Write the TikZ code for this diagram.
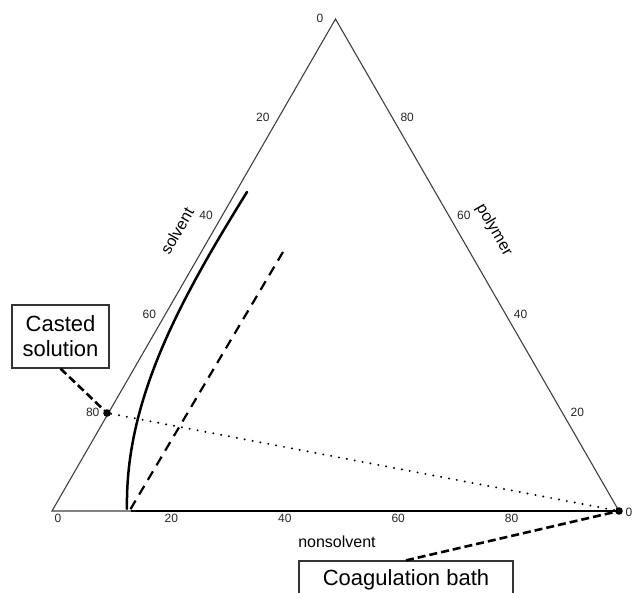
\documentclass[tikz,border=0pt]{standalone}
\usepackage{fontspec}
\setmainfont{Liberation Sans}
\usetikzlibrary{calc}
\begin{document}
\begin{tikzpicture}[x=0.5pt,y=-0.5pt,
  edge/.style={line width=0.55pt, draw=black!75},
  ticklab/.style={font=\fontsize{6}{7}\selectfont, text=black!85, inner sep=0pt},
  axisname/.style={font=\fontsize{8}{9}\selectfont, inner sep=0pt},
  heavy/.style={line width=1.25pt, line cap=round},
  tieline/.style={line width=1.1pt, dash pattern=on 5pt off 3.5pt},
  leader/.style={line width=1.3pt, dash pattern=on 4pt off 2pt},
  dotline/.style={line width=1.1pt, line cap=round, dash pattern=on 0pt off 4pt},
  pt/.style={circle, fill=black, inner sep=0pt, minimum size=3.8pt},
  callout/.style={draw=black!80, line width=0.6pt, font=\fontsize{11}{12.5}\selectfont, align=center, inner sep=0pt}
]
\useasboundingbox (0,0) rectangle (634,593);
% triangle corners
\coordinate (A) at (335.5,19);
\coordinate (L) at (52,511);
\coordinate (R) at (619,511);
\draw[edge] (A) -- (L) -- (R) -- cycle;

% left side ticks (solvent)
\node[ticklab] (a0) at (320,18) {0};
\foreach \f/\t in {0.2/20,0.4/40,0.6/60,0.8/80}
  \node[ticklab, xshift=-8pt] (s\t) at ($(A)!\f!(L)$) {\t};
% right side ticks (polymer)
\foreach \f/\t in {0.2/80,0.4/60,0.6/40,0.8/20}
  \node[ticklab, xshift=7.5pt] (p\t) at ($(A)!\f!(R)$) {\t};
\node[ticklab] (r0) at (629,512) {0};
% bottom ticks (nonsolvent)
\foreach \f/\t in {0/0,0.2/20,0.4/40,0.6/60,0.8/80}
  \node[ticklab, xshift=3pt, yshift=-3.5pt] (n\t) at ($(L)!\f!(R)$) {\t};

% axis names
\node[axisname, rotate=60] (solv) at (177,231) {solvent};
\node[axisname, rotate=-60] (poly) at (494,230) {polymer};
\node[axisname] (nons) at (337,542) {nonsolvent};

% binodal curve
\coordinate (b1) at (247,192);
\coordinate (b2) at (127,509);
\draw[heavy] (b1) .. controls (180,300) and (125,400) .. (b2);

% dashed line
\coordinate (d1) at (283,252);
\coordinate (d2) at (130,510);
\draw[tieline] (d1) -- (d2);

% thick bottom segment
\coordinate (e0) at (131,511);
\draw[heavy, line cap=butt] (e0) -- (R);

% points
\node[pt] (cdot) at (107,413) {};
\node[pt] (rdot) at (619,511) {};
\draw[dotline] (cdot) -- (rdot);

% callouts
\node[callout, minimum width=48.5pt, minimum height=31.5pt] (cast) at (60.5,336.5) {Casted\\solution};
\node[callout, minimum width=107pt, minimum height=19pt] (coag) at (406,580) {Coagulation bath};
\draw[leader] (cast.south) -- (cdot);
\draw[leader] (coag.north) -- (rdot);
\end{tikzpicture}
\end{document}
